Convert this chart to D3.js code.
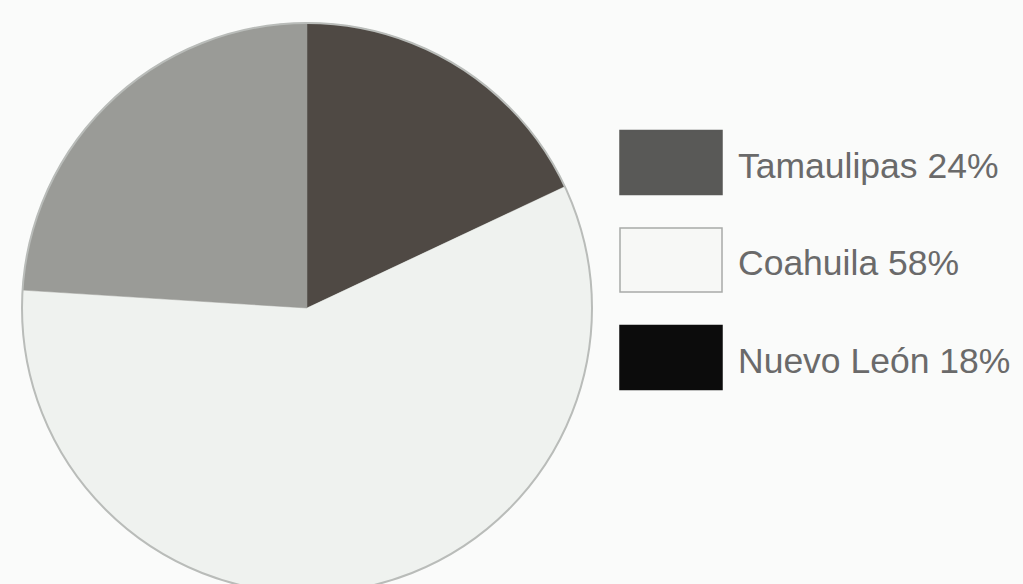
<!DOCTYPE html>
<html>
<head>
<meta charset="utf-8">
<script src="https://cdn.jsdelivr.net/npm/d3@7"></script>
<style>
  html, body { margin: 0; padding: 0; background: #fafbfa; }
  svg { display: block; }
</style>
</head>
<body>
<svg id="chart" width="1023" height="584"></svg>
<script>
// Share of each state (percent), listed in legend order
const regions = ["Tamaulipas", "Coahuila", "Nuevo León"];
const shares = [24, 58, 18];
// Slices run clockwise from 12 o'clock in this order
const sliceOrder = ["Nuevo León", "Coahuila", "Tamaulipas"];

const swatchColors = ["#595957", "#f7f8f6", "#0c0c0c"];
// Slices print in softer tones than the legend swatches
const sliceColors = ["#9a9b97", "#eff2ef", "#4f4944"];

const svg = d3.select("#chart");

const cx = 307, cy = 308, radius = 285;

const color = d3.scaleOrdinal().domain(regions).range(swatchColors);
const sliceFill = d3.scaleOrdinal().domain(regions).range(sliceColors);

const pie = d3.pie()
  .sort(null)
  .value(name => shares[regions.indexOf(name)]);

const arc = d3.arc().innerRadius(0).outerRadius(radius);

const g = svg.append("g").attr("transform", `translate(${cx},${cy})`);

g.selectAll("path.slice")
  .data(pie(sliceOrder))
  .join("path")
  .attr("class", "slice")
  .attr("d", arc)
  .attr("fill", d => sliceFill(d.data))
  .attr("stroke", d => sliceFill(d.data))
  .attr("stroke-width", 0.5);

g.append("circle")
  .attr("r", radius)
  .attr("fill", "none")
  .attr("stroke", "#b9bcb9")
  .attr("stroke-width", 2);

// Legend
const legendY = d3.scalePoint().domain(regions).range([162.5, 357.5]);
const legend = svg.append("g");

const items = legend.selectAll("g.item")
  .data(regions)
  .join("g")
  .attr("class", "item")
  .attr("transform", d => `translate(620,${legendY(d)})`);

items.append("rect")
  .attr("x", 0)
  .attr("y", -32)
  .attr("width", 102)
  .attr("height", 64)
  .attr("fill", d => color(d))
  .attr("stroke", d => d === "Coahuila" ? "#a8aaa8" : color(d))
  .attr("stroke-width", 1.5);

items.append("text")
  .attr("x", 118)
  .attr("y", 15)
  .attr("font-family", "Liberation Sans, Arial, sans-serif")
  .attr("font-size", 35.5)
  .attr("fill", "#6a6a6a")
  .text((d, i) => `${d} ${shares[i]}%`);
</script>
</body>
</html>
